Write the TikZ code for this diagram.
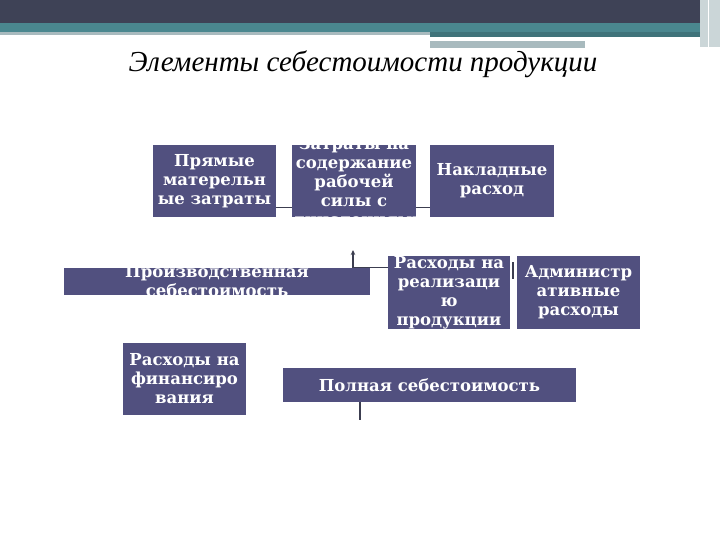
\documentclass[tikz,border=0pt]{standalone}
\usepackage{fontspec}
\setmainfont{Liberation Serif}
\newfontfamily\boxfont{DejaVu Serif}
\usetikzlibrary{arrows.meta}

\definecolor{boxfill}{RGB}{81,80,127}
\definecolor{bardark}{RGB}{62,66,86}
\definecolor{barteal}{RGB}{74,135,143}
\definecolor{bargray}{RGB}{168,186,190}
\definecolor{linkgray}{RGB}{60,62,80}

\tikzset{
	boxtext/.style={text=white, font=\boxfont\bfseries\fontsize{16.5}{19}\selectfont, align=center, inner sep=0pt},
	box/.style={boxtext, fill=boxfill},
	clipbox/.style={fill=boxfill, inner sep=0pt,
		path picture={\node[boxtext] at (path picture bounding box.center) {#1};}},
	link/.style={draw=linkgray, line width=1pt},
	uparrow/.style={link, line width=1.6pt, -{Stealth[length=5pt,width=4.5pt]}}
}

\begin{document}
\begin{tikzpicture}[x=1pt, y=-1pt]
	\useasboundingbox (0,0) rectangle (720,540);
	
	% header bars
	\fill[bardark] (0,0) rectangle (720,23);
	\fill[barteal] (0,23) rectangle (700,32);
	\fill[bargray] (0,32) rectangle (430,35);
	\fill[barteal!85!black] (430,32) rectangle (700,37);
	\fill[white] (430,37) rectangle (668,41);
	\fill[bargray] (430,41) rectangle (585,48);
	\fill[bargray!60] (700,0) rectangle (720,47);
	\draw[white, line width=1pt] (708,0) -- (708,47);
	
	\node[anchor=base, font=\itshape\fontsize{29}{33}\selectfont] (title) at (363,72) {Элементы себестоимости продукции};
	
	% first row
	\node[box, minimum width=123pt, minimum height=72pt] (direct) at (214.5,181) {Прямые\\матерельн\\ые затраты};
	\node[clipbox={Затраты на\\содержание\\рабочей\\силы с\\отчислениями}, minimum width=124pt, minimum height=72pt] (labour) at (354,181) {};
	\node[box, minimum width=124pt, minimum height=72pt] (overhead) at (492,181) {Накладные\\расход};
	
	\draw[link] (direct.east |- 0,208) -- (labour.west |- 0,208);
	\draw[link] (labour.east |- 0,208) -- (overhead.west |- 0,208);
	
	% second row
	\node[clipbox={Производственная\\себестоимость}, minimum width=306pt, minimum height=27pt] (production) at (217,281.5) {};
	\node[clipbox={Расходы на\\реализаци\\ю\\продукции}, minimum width=122pt, minimum height=73pt] (sales) at (449,292.5) {};
	\node[box, minimum width=123pt, minimum height=73pt] (admin) at (578.5,292.5) {Администр\\ативные\\расходы};
	
	\coordinate (up) at (353,250);
	\draw[uparrow] (production.north -| up) -- (up);
	\draw[link] (production.north -| up) -- (sales.west |- production.north);
	\coordinate (gaptop) at (513,262);
	\coordinate (gapbot) at (513,279);
	\draw[link, line width=1.4pt] (gaptop) -- (gapbot);
	
	% third row
	\node[box, minimum width=123pt, minimum height=72pt] (finance) at (184.5,379) {Расходы на\\финансиро\\вания};
	\node[box, minimum width=293pt, minimum height=34pt] (total) at (429.5,385) {Полная себестоимость};
	
	\coordinate (tail) at (360,420);
	\draw[link, line width=1.6pt] (total.south -| tail) -- (tail);
\end{tikzpicture}
\end{document}
